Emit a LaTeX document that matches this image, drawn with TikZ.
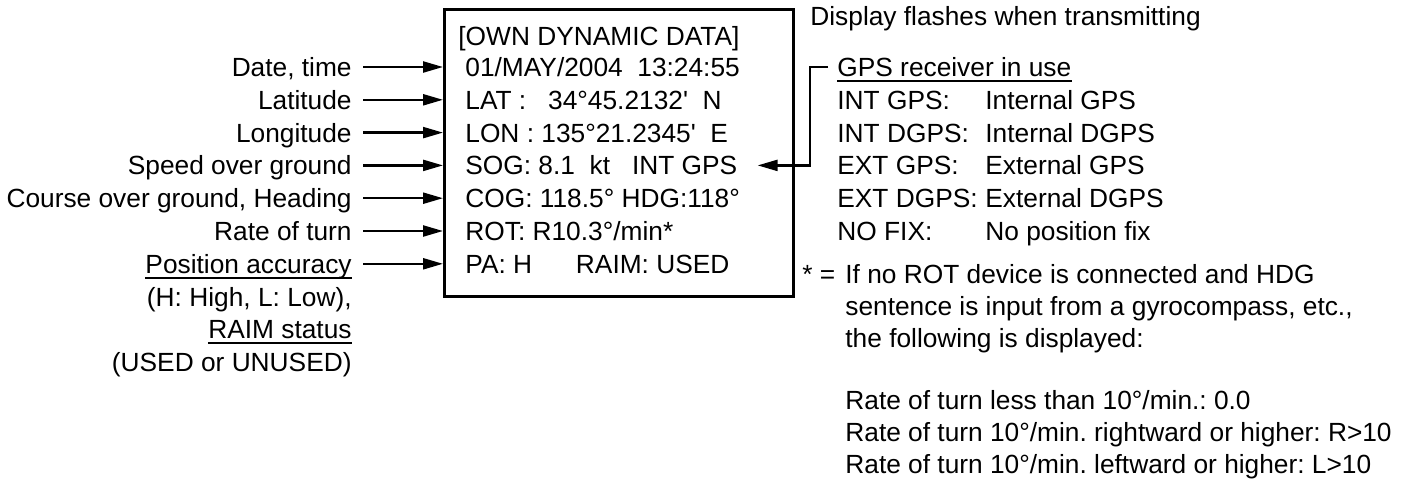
\documentclass[tikz,border=0pt]{standalone}
\usepackage{fontspec}
\setmainfont{Liberation Sans}[Ligatures=TeXOff]
\usetikzlibrary{arrows.meta, positioning}
\frenchspacing

% fixed first column for the receiver codes
\newcommand{\gpscode}[1]{\makebox[74pt][l]{#1}}

\begin{document}
\begin{tikzpicture}[
  x=0.5pt, y=-0.5pt,
  every node/.style={font=\fontsize{13.15pt}{16pt}\selectfont, inner sep=0pt, text height=9.4pt, text depth=0pt},
  panel/.style={draw, line width=1.35pt, anchor=north west, minimum width=174.5pt, minimum height=143.5pt},
  feed/.style={-{Triangle[length=10pt, width=5.5pt]}, line width=1.15pt},
  uline/.style={line width=1pt},
  node distance=6.6pt
]
\useasboundingbox (0,0) rectangle (1412,482);

% Display panel
\node[panel] (panel) at (443,8) {};
\node[anchor=west] (title) at (458,36) {[OWN DYNAMIC DATA]};
\node[anchor=west] (rowdate) at (465,67) {01/MAY/2004\ \ 13:24:55};
\node[below=of rowdate.south west, anchor=north west] (rowlat) {LAT :\ \ \ 34°45.2132'\ \ N};
\node[below=of rowlat.south west, anchor=north west] (rowlon) {LON : 135°21.2345'\ \ E};
\node[below=of rowlon.south west, anchor=north west] (rowsog) {SOG: 8.1\ \ kt\ \ \ INT GPS};
\node[below=of rowsog.south west, anchor=north west] (rowcog) {COG: 118.5° HDG:118°};
\node[below=of rowcog.south west, anchor=north west] (rowrot) {ROT: R10.3°/min*};
\node[below=of rowrot.south west, anchor=north west] (rowpa) {PA: H\ \ \ \ \ \ RAIM: USED};

% Labels on the left
\node[anchor=east] (lbldate) at (352,67) {Date, time};
\node[below=of lbldate.south east, anchor=north east] (lbllat) {Latitude};
\node[below=of lbllat.south east, anchor=north east] (lbllon) {Longitude};
\node[below=of lbllon.south east, anchor=north east] (lblsog) {Speed over ground};
\node[below=of lblsog.south east, anchor=north east] (lblcog) {Course over ground, Heading};
\node[below=of lblcog.south east, anchor=north east] (lblrot) {Rate of turn};
\node[below=of lblrot.south east, anchor=north east] (lblpa) {Position accuracy};
\node[below=of lblpa.south east, anchor=north east] (lblhl) {(H: High, L: Low),};
\node[below=of lblhl.south east, anchor=north east] (lblraim) {RAIM status};
\node[below=of lblraim.south east, anchor=north east] (lblused) {(USED or UNUSED)};

\draw[uline] ([yshift=-2pt]lblpa.south west) -- ([yshift=-2pt]lblpa.south east);
\draw[uline] ([yshift=-2pt]lblraim.south west) -- ([yshift=-2pt]lblraim.south east);

% Arrows into the panel
\draw[feed] ([xshift=5.5pt]lbldate.east) -- (lbldate.east -| panel.west);
\draw[feed] ([xshift=5.5pt]lbllat.east) -- (lbllat.east -| panel.west);
\draw[feed] ([xshift=5.5pt]lbllon.east) -- (lbllon.east -| panel.west);
\draw[feed] ([xshift=5.5pt]lblsog.east) -- (lblsog.east -| panel.west);
\draw[feed] ([xshift=5.5pt]lblcog.east) -- (lblcog.east -| panel.west);
\draw[feed] ([xshift=5.5pt]lblrot.east) -- (lblrot.east -| panel.west);
\draw[feed] ([xshift=5.5pt]lblpa.east) -- (lblpa.east -| panel.west);

% Right side notes
\node[anchor=west] (flash) at (810,16) {Display flashes when transmitting};
\node[anchor=west] (gpshead) at (837,67) {GPS receiver in use};
\node[below=of gpshead.south west, anchor=north west] (gpsint) {\gpscode{INT GPS:}Internal GPS};
\node[below=of gpsint.south west, anchor=north west] (gpsintd) {\gpscode{INT DGPS:}Internal DGPS};
\node[below=of gpsintd.south west, anchor=north west] (gpsext) {\gpscode{EXT GPS:}External GPS};
\node[below=of gpsext.south west, anchor=north west] (gpsextd) {\gpscode{EXT DGPS:}External DGPS};
\node[below=of gpsextd.south west, anchor=north west] (gpsnofix) {\gpscode{NO FIX:}No position fix};

\draw[uline] ([yshift=-2pt]gpshead.south west) -- ([yshift=-2pt]gpshead.south east);

% Bracket from the receiver list to the SOG line
\draw[feed] ([xshift=-4.5pt]gpshead.west) -- ++(-18,0) |- ([xshift=10pt]rowsog.east);

% Footnote for ROT
\node[anchor=west] (star) at (802,274) {* =};
\node[anchor=west] (note1) at (845,274) {If no ROT device is connected and HDG};
\node[below=6.1pt of note1.south west, anchor=north west] (note2) {sentence is input from a gyrocompass, etc.,};
\node[below=6.1pt of note2.south west, anchor=north west] (note3) {the following is displayed:};
\node[below=21.6pt of note3.south west, anchor=north west] (rotzero) {Rate of turn less than 10°/min.: 0.0};
\node[below=6.1pt of rotzero.south west, anchor=north west] (rotright) {Rate of turn 10°/min. rightward or higher: R>10};
\node[below=6.1pt of rotright.south west, anchor=north west] (rotleft) {Rate of turn 10°/min. leftward or higher: L>10};

\end{tikzpicture}
\end{document}
